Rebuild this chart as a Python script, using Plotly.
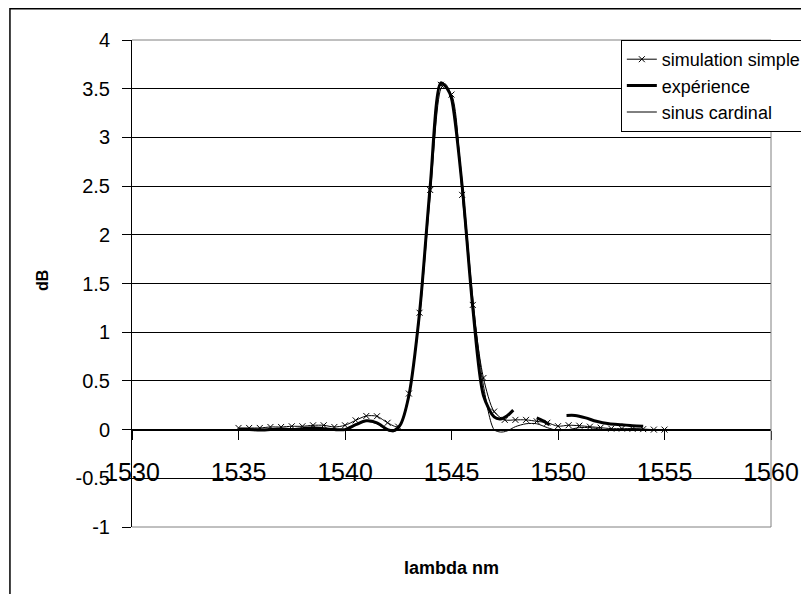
import plotly.graph_objects as go

# simulation simple (points tous les 0.5 nm)
sim_x = [1535, 1535.5, 1536, 1536.5, 1537, 1537.5, 1538, 1538.5, 1539, 1539.5,
         1540, 1540.5, 1541, 1541.5, 1542, 1542.5, 1543, 1543.5, 1544, 1544.5,
         1545, 1545.5, 1546, 1546.5, 1547, 1547.5, 1548, 1548.5, 1549, 1549.5,
         1550, 1550.5, 1551, 1551.5, 1552, 1552.5, 1553, 1553.5, 1554, 1554.5, 1555]
sim_y = [0.017, 0.017, 0.017, 0.027, 0.027, 0.034, 0.034, 0.044, 0.044, 0.027,
         0.044, 0.095, 0.14, 0.137, 0.07, 0.03, 0.37, 1.2, 2.46, 3.54,
         3.44, 2.41, 1.28, 0.53, 0.185, 0.10, 0.10, 0.10, 0.085, 0.07,
         0.035, 0.045, 0.04, 0.03, 0.02, 0.01, 0.01, 0.008, 0.005, 0.0, 0.0]

# expérience (mesure, avec trous)
exp_x = [1535, 1535.5, 1536, 1536.5, 1537, 1537.5, 1538, 1538.5, 1539, 1539.5,
         1540, 1540.5, 1541, 1541.5, 1542, 1542.3, 1542.6, 1543, 1543.5, 1544,
         1544.5, 1544.8, 1545, 1545.5, 1546, 1546.5, 1547, 1547.3, 1547.6, 1547.9,
         1548.4,
         1549, 1549.3, 1549.6,
         1550.0,
         1550.4, 1550.8, 1551.3, 1551.8, 1552.4, 1553, 1553.5, 1554]
exp_y = [0.0, 0.0, -0.005, 0.0, 0.005, 0.0, 0.01, 0.02, 0.01, 0.0,
         0.0, 0.05, 0.09, 0.07, 0.0, -0.01, 0.05, 0.35, 1.2, 2.5,
         3.56, 3.5, 3.4, 2.5, 1.25, 0.35, 0.13, 0.11, 0.14, 0.2,
         None,
         0.12, 0.09, 0.05,
         None,
         0.145, 0.145, 0.12, 0.085, 0.06, 0.05, 0.04, 0.035]

# sinus cardinal
sinc_x = [1535, 1536, 1537, 1538, 1539, 1539.5, 1540, 1540.5, 1541, 1541.5,
          1542, 1542.3, 1542.6, 1543, 1543.5, 1544, 1544.5, 1544.7, 1545, 1545.5,
          1546, 1546.5, 1547, 1547.3, 1547.6, 1548, 1548.5, 1549, 1549.5, 1550,
          1550.5, 1551, 1551.5, 1552, 1552.5, 1553, 1553.5, 1554]
sinc_y = [0.0, 0.005, 0.0, 0.01, 0.0, -0.005, 0.0, 0.05, 0.085, 0.06,
          -0.01, -0.02, 0.04, 0.35, 1.15, 2.4, 3.5, 3.55, 3.42, 2.55,
          1.35, 0.45, 0.0, -0.025, -0.015, 0.03, 0.06, 0.06, 0.02, -0.01,
          0.0, 0.02, 0.02, 0.005, -0.005, 0.0, 0.01, 0.005]

# axes
x_ticks = [1530, 1535, 1540, 1545, 1550, 1555, 1560]
y_ticks = [-1, -0.5, 0, 0.5, 1, 1.5, 2, 2.5, 3, 3.5, 4]
y_labels = ["-1", "-0.5", "0", "0.5", "1", "1.5", "2", "2.5", "3", "3.5", "4"]

FONT = "Liberation Sans, Arial, sans-serif"

fig = go.Figure()

fig.add_trace(go.Scatter(
    x=sim_x, y=sim_y, name="simulation simple",
    mode="lines+markers",
    line=dict(color="black", width=1, shape="spline", smoothing=0.8),
    marker=dict(symbol="x-thin", size=6, line=dict(color="black", width=1))
))

fig.add_trace(go.Scatter(
    x=exp_x, y=exp_y, name="expérience",
    mode="lines",
    line=dict(color="black", width=3, shape="spline", smoothing=0.8)
))

fig.add_trace(go.Scatter(
    x=sinc_x, y=sinc_y, name="sinus cardinal",
    mode="lines",
    line=dict(color="black", width=1, shape="spline", smoothing=0.8)
))

# la page ajoute 8 px de marge autour de la figure
fig.update_layout(
    width=801, height=586,
    margin=dict(l=124, r=38, t=32, b=67, autoexpand=False),
    plot_bgcolor="white",
    paper_bgcolor="white",
    font=dict(family=FONT, color="black"),
    showlegend=True,
    legend=dict(
        x=0.765, y=1.0, xanchor="left", yanchor="top",
        bgcolor="white", bordercolor="black", borderwidth=1,
        font=dict(family=FONT, size=18, color="black"),
        tracegroupgap=0
    ),
    annotations=[
        dict(text="<b>lambda nm</b>", x=0.5, y=-0.084, xref="paper", yref="paper",
             xanchor="center", yanchor="middle", showarrow=False,
             font=dict(family=FONT, size=18, color="black")),
        dict(text="<b>dB</b>", x=-0.141, y=0.507, xref="paper", yref="paper",
             xanchor="center", yanchor="middle",
             textangle=-90, showarrow=False,
             font=dict(family=FONT, size=16, color="black")),
    ],
    shapes=[
        # bordure du graphique
        dict(type="rect", xref="paper", yref="paper",
             x0=-0.191, x1=1.2, y0=-0.3, y1=1.064,
             line=dict(color="black", width=1.5), layer="below"),
        # bordure grise de la zone de tracé
        dict(type="line", xref="paper", yref="paper", x0=0, x1=1, y0=1, y1=1,
             line=dict(color="#808080", width=1)),
        dict(type="line", xref="paper", yref="paper", x0=1, x1=1, y0=0, y1=1,
             line=dict(color="#808080", width=1)),
        dict(type="line", xref="paper", yref="paper", x0=0, x1=1, y0=0, y1=0,
             line=dict(color="#808080", width=1)),
    ]
)

# axe x posé sur y = 0
fig.update_xaxes(
    range=[1530, 1560],
    tickvals=x_ticks,
    showgrid=False, zeroline=False,
    anchor="free", position=0.2,
    showline=True, linecolor="black", linewidth=1,
    ticks="outside", ticklen=9, tickcolor="black",
    ticklabelstandoff=11,
    tickfont=dict(family=FONT, size=25, color="black")
)

fig.update_yaxes(
    range=[-1, 4],
    tickvals=y_ticks, ticktext=y_labels,
    showgrid=True, gridcolor="black", gridwidth=1,
    zeroline=False,
    showline=True, linecolor="black", linewidth=1,
    ticks="outside", ticklen=9, tickcolor="black",
    ticklabelstandoff=8,
    tickfont=dict(family=FONT, size=20, color="black")
)

fig.write_html("out.html")
